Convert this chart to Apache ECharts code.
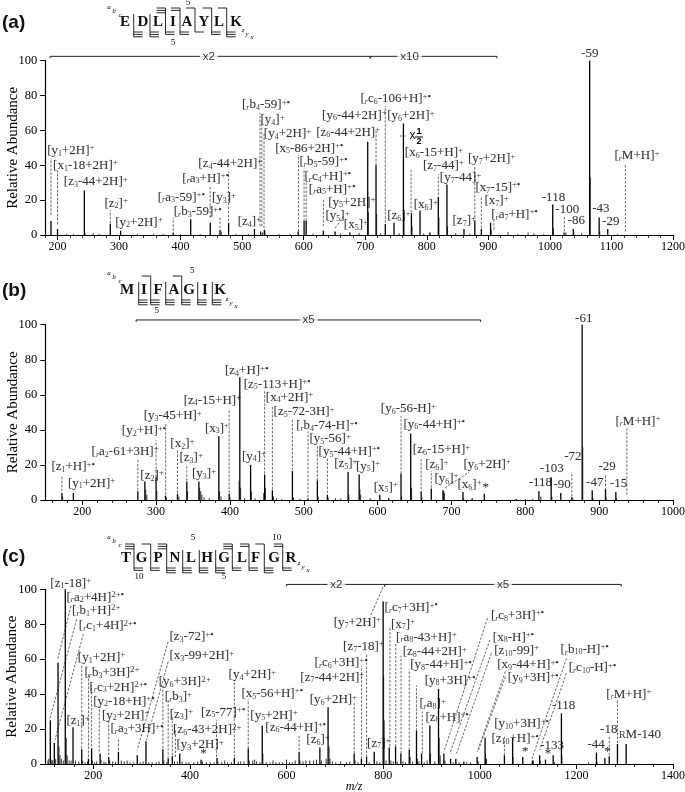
<!DOCTYPE html>
<html><head><meta charset="utf-8">
<style>html,body{margin:0;padding:0;background:#fff}#c{width:685px;height:792px}</style>
<script src="https://cdn.jsdelivr.net/npm/echarts@6/dist/echarts.min.js"></script>
</head><body><div id="c"></div>
<script>
// ---------- Panel (a) ----------
const aPeaks=[[189.4,8],[200,3.5],[243.6,25.5],[285.8,6.5],[302.6,2.5],[388,1.5],[416.4,9],[448.2,7],[464,3],[478,7],[520,3.5],[530,2],[536,3],[591,2],[600.6,8],[604,8],[632,2.5],[651,2],[675,1.5],[704,53.5],[717.5,40],[732.6,6.3],[746.7,7],[762,64],[775,12.5],[789,14],[805,1.5],[818.7,22],[832.7,29],[860.4,3.5],[878,8.5],[888.6,3.5],[903.6,7],[1004.6,17.5],[1023,1.5],[1038,3.5],[1064.6,100],[1080,10],[1094,3.5]];
const aMinor=[[705,13],[718.5,12],[763,13],[776,5],[819.7,10],[833.7,5],[904.6,3],[1005.6,4],[1065.6,33],[1081,2],[466,2],[537,2.5],[533,1.5],[245,1],[215,.6],[226,.5],[258,1],[268,.7],[330,.6],[356,.8],[372,.6],[400,.6],[432,.5],[490,.6],[510,.6],[560,.5],[578,.6],[615,.7],[660,.8],[690,1.2],[725,1],[755,1],[795,.8],[847,1],[870,.7],[932,1.5],[948,.6],[964.6,1.5],[974,1],[990,.6],[1026,1.5],[1039,1.5],[1051.6,1],[1110,.5]];
const aLabels=[[182.4,48.4,"[y{1}+2H]<+>"],[192,39.8,"[x{1}-18+2H]<+>"],[209.5,30.6,"[z{3}-44+2H]<+>"],[275.5,18.2,"[z{2}]<+>"],[293,7.3,"[y{2}+2H]<+>"],[362,21.6,"[{r}a{3}-59]<+•>"],[388,13.2,"[{r}b{3}-59]<+•>"],[402,32.5,"[{r}a{3}+H]<+•>"],[450,21.2,"[y{3}]<+>"],[428,40.9,"[z{4}-44+2H]<+>"],[492,7.6,"[z{4}]<+>"],[499,74.6,"[{r}b{4}-59]<+•>"],[529,66,"[y{4}]<+>"],[534.4,58,"[y{4}+2H]<+>"],[553,49.7,"[x{5}-86+2H]<+•>"],[592.4,42,"[{r}b{5}-59]<+•>"],[600.5,33.5,"[{r}c{4}+H]<+•>"],[607.5,26.2,"[{r}a{5}+H]<+•>"],[639,18.7,"[y{5}+2H]<+>"],[634.6,11,"[y{5}]<+>"],[664.4,5.7,"[x{5}]<+>"],[619.4,58.9,"[z{6}-44+2H]<+>"],[629,68.8,"[y{6}-44+2H]<+>"],[691.5,78.2,"[{r}c{6}-106+H]<+•>"],[734.8,68.3,"[y{6}+2H]<+>"],[763.5,47.2,"[x{6}-15+H]<+>"],[793,39.8,"[z{7}-44]<+>"],[820.4,32.9,"[y{7}-44]<+>"],[866,43.8,"[y{7}+2H]<+>"],[878.3,27.2,"[x{7}-15]<+•>"],[893,19.5,"[x{7}]<+>"],[903.8,11.7,"[{r}a{7}+H]<+•>"],[778,17.2,"[x{6}]<+>"],[734.8,10.9,"[z{6}]<+>"],[841,8.2,"[z{7}]<+>"],[986,21.6,"-118"],[1008,14.3,"-100"],[1028,8.4,"-86"],[1050,103.8,"-59"],[1068,14.9,"-43"],[1084,7.6,"-29"],[1104,45.5,"[{r}M+H]<+>"]];
const aLinks=[[189.4,11.5,189.4,44],[200,6,200,37],[285.8,6.7,285.8,14.3],[388,2.5,388,10],[448,10,448,27.7],[464,4,464,10.5],[478,8,478,36.3],[529,5,529,70],[532,5,532,65],[535.5,4,535.5,58],[591.5,2,591.5,46],[600.6,8,600.6,38],[604,8,604,30],[632,5,632,20],[717.5,40,717.5,60],[732.6,7,732.6,74],[774.4,13,774.4,38],[818.7,23,818.7,35],[878,10,878,39],[888.6,4,888.6,22],[909,3,909,8.6],[1023.5,2,1023.5,11],[1122.6,2,1122.6,41],[651,4,665,11]];
const aBrackets=[[188,708,102.5],[708,914,102.5]];
const aBracketTexts=[[446,"x2"],[772,"x10"]];
// ---------- Panel (b) ----------
const bPeaks=[[172.5,4],[188,4],[275.3,5],[284.8,10.5],[300,13],[312.8,2.5],[329,3.5],[341.6,10.5],[358,10.5],[385,36.5],[399,3.5],[413.4,70],[428,20],[447,14.5],[457.5,5.5],[484.6,16.5],[505.8,1],[518.4,11],[532,3],[560,16],[575,14.5],[603,3],[615,1],[631.7,15],[644.8,38],[659,5],[672.7,6.5],[688.5,5.5],[715.6,4.5],[728,1],[744.5,3.5],[787.8,.6],[818.4,5],[835,13],[848,4],[863,1.5],[877,100],[890.6,5.5],[908.6,6.5],[922.6,4.5]];
const bMinor=[[173.5,2],[286,6],[287.5,3],[301,5],[314,1.5],[331,2],[342.6,5],[359,7],[360.5,5],[362,3],[365,1.5],[372,1],[386,5],[388,2],[400,1.5],[412.5,11],[414.5,7],[420,1],[429,5],[434,1],[445.8,4],[448,7],[459,2],[463,1],[486,1.5],[519.5,2],[533,1.5],[543,1],[561,3],[576,6],[577,3],[590,1],[632.5,2],[646,7],[660,1.5],[689.5,5],[690.5,4],[716.5,1],[821,2],[836,2],[864.5,1],[877.8,30],[891.5,1],[909.5,1.5],[923.5,1],[470,.6],[495,.7],[550,.8],[800,.5],[810,.7]];
const bLabels=[[157.6,18.8,"[z{1}+H]<+•>"],[180,9.5,"[y{1}+2H]<+>"],[212,27.6,"[{r}a{2}-61+3H]<+>"],[278,13.9,"[z{2}]<+>"],[253,39.5,"[y{2}+H]<+•>"],[282.5,47.9,"[y{3}-45+H]<+>"],[318.6,32,"[x{2}]<+>"],[331,24,"[z{3}]<+>"],[348,14.8,"[y{3}]<+>"],[365.5,40.9,"[x{3}]<+>"],[336.7,57,"[z{4}-15+H]<+>"],[415.6,24.9,"[y{4}]<+>"],[392.6,73.6,"[z{4}+H]<+•>"],[418,66,"[z{5}-113+H]<+•>"],[448,58.7,"[x{4}+2H]<+>"],[458.5,50.4,"[z{5}-72-3H]<+>"],[489,42.4,"[{r}b{4}-74-H]<+•>"],[507,34.8,"[y{5}-56]<+>"],[519.4,27.6,"[y{5}-44+H]<+•>"],[540.5,20.5,"[z{5}]<+>"],[570,19.2,"[y{5}]<+>"],[594,7.2,"[x{5}]<+>"],[603.7,51.9,"[y{6}-56-H]<+>"],[634.4,43.3,"[y{6}-44+H]<+•>"],[647,28.5,"[z{6}-15+H]<+>"],[663.7,20,"[z{6}]<+>"],[676.3,12.2,"[y{6}]<+>"],[707.5,8.6,"[x{6}]<+>"],[715.6,20.3,"[y{6}+2H]<+>"],[741.5,7,"*"],[804,9.7,"-118"],[819,17.7,"-103"],[837.4,8.7,"-90"],[852,24.5,"-72"],[866.7,103.6,"-61"],[881.6,10,"-47"],[898.3,19,"-29"],[914,9.5,"-15"],[921.3,45,"[{r}M+H]<+>"]];
const bLinks=[[172.5,5,172.5,14],[275.3,5.5,275.3,23],[300,13,300,34],[313,3,313,43.7],[329,4,329,28.5],[341.6,11,341.6,20],[399,4,399,52],[447,15,447,62],[457.5,6,457.5,54],[484.6,17,484.6,46.6],[505.8,1.5,505.8,39],[518.4,11,518.4,31],[532,4,532,24],[631.7,15,631.7,48],[659,6,659,24],[672.7,7,672.7,16.5],[863,2,863,16],[908.6,8,908.6,14.6],[937.5,3,937.5,41],[690.8,7,723.7,15.8]];
const bBrackets=[[273,739.5,102.7]];
const bBracketTexts=[[506.6,"x5"]];
// ---------- Panel (c) ----------
const cPeaks=[[111,25],[119.3,12],[127,58],[142,100],[158,21],[176,8.5],[190,3],[196.5,9],[214,6],[232,4],[252,7],[291,5],[309,13],[344,8.5],[355,3],[363.5,4.5],[379,6],[423,2.5],[456,3.5],[492,3.5],[520.7,9],[549.7,22],[626,7],[669,9.5],[686,32.5],[740,6],[755,3],[765.7,4],[781.5,7],[800,93],[812.6,9.5],[825.7,10],[836.7,6],[854,8],[869,19],[879.5,6],[896.7,22],[914.6,43],[925.7,6],[939.5,3],[950.5,3],[967,1.5],[994.6,4],[1011,15],[1051,5],[1068,15],[1089,4],[1109,2],[1124,5],[1136,2.5],[1152,5],[1169,29],[1241.5,6.5],[1259,3.5],[1268,4.5],[1285,11.5],[1303,11.5]];
const cMinor=[[106,2],[108,3],[114,2.5],[116,2],[122,3],[129,10],[131,5],[134,3],[138,2],[144,15],[146,5],[150,2],[154,2],[163,2],[170,1.5],[178,2],[183,1],[188,1.5],[198,2],[203,1],[207,1.5],[216,2.5],[222,1.5],[226,1],[234,2],[240,1.5],[246,1],[258,2],[264,1.5],[270,2],[276,1],[284,1],[297,1],[303,1.5],[315,1],[322,1],[330,1],[336,1.5],[346,2],[352,1],[368,1.5],[374,1.5],[384,1.5],[392,1],[398,1],[408,1],[416,1.5],[426,1.5],[434,1],[442,1],[450,1],[458,1.5],[466,1],[472,2],[478,1],[486,1],[500,1.5],[505,1.5],[512,1.5],[523,2],[530,2],[534,2.5],[538,1.5],[545,1],[551,6],[558,1],[566,1],[572,2],[578,1],[585,1],[592,1],[600,2.5],[606,1],[612,1],[618,2],[628,2],[634,1.5],[640,2],[648,2],[656,2],[662,2.5],[672,2],[682,3],[688,10],[690,3],[695,1.5],[702,1],[712,1.5],[724,1],[731,1.5],[742,2],[748,1],[771,1],[787,1.5],[793,1],[801,50],[802,25],[806,2],[816,2],[821,1.5],[829,1.5],[841,1.5],[846,1],[856,4],[861,1.5],[871,3],[874,1.5],[885,1],[891,2],[898,6],[907,1.5],[916,15],[918,5],[928,2],[945,1],[957,1],[973,1],[981,1],[997,1.5],[1012,6],[1014,3],[1069,4],[1111,2],[1125,2],[1155,1],[1170,5],[1225,1],[1243,1]];
const cLabels=[[110,103.4,"[z{1}-18]<+>"],[143.4,95.4,"[{r}a{2}+4H]<2+•>"],[155,87.8,"[{r}b{1}+H]<2+>"],[169,79,"[{r}c{1}+4H]<2+•>"],[167,61,"[y{1}+2H]<+>"],[180.7,52.3,"[{r}b{3}+3H]<2+>"],[191,43.9,"[{r}c{3}+2H]<2+•>"],[198.6,35.9,"[y{2}-18+H]<+•>"],[217,28,"[y{2}+2H]<+>"],[234.5,20.2,"[{r}a{2}+3H]<+•>"],[143.4,24.6,"[z{1}]<+>"],[356.6,72.7,"[z{3}-72]<+•>"],[356.6,61.8,"[x{3}-99+2H]<+>"],[334.5,47,"[y{6}+3H]<2+>"],[347,38.5,"[{r}b{3}]<+>"],[357,28.4,"[z{3}]<+>"],[364,19.5,"[z{6}-43+2H]<2+>"],[371,10.9,"[y{3}+2H]<+>"],[420.5,6,"*"],[422,29.6,"[z{5}-77]<+•>"],[479,51,"[y{4}+2H]<+>"],[505.5,40.3,"[x{5}-56+H]<+•>"],[524,28,"[y{5}+2H]<+>"],[555,21,"[z{6}-44+H]<+•>"],[640,13.7,"[z{6}]<+>"],[647,36.6,"[y{6}+2H]<+>"],[627.6,49.6,"[z{7}-44+2H]<+>"],[657,58,"[{r}c{6}+3H]<+•>"],[716,67.2,"[z{7}-18]<+>"],[696.6,81,"[y{7}+2H]<+>"],[802,89.5,"[{r}c{7}+3H]<+•>"],[815,80,"[x{7}]<+>"],[825.7,72.5,"[{r}a{8}-43+H]<+>"],[839.5,64.3,"[z{8}-44+2H]<+>"],[855,56.7,"[y{8}-44+H]<+•>"],[885,48,"[y{8}+3H]<+•>"],[874,34.4,"[{r}a{8}]<+>"],[886.4,26.7,"[z{8}+H]<+•>"],[765.7,11.8,"[z{7}]<+>"],[1022,85,"[{r}c{8}+3H]<+•>"],[1026,72.5,"[x{8}-H]<+•>"],[1029,64.9,"[z{10}-99]<+>"],[1035,56.7,"[x{9}-44+H]<+•>"],[1057,49.2,"[y{9}+3H]<+•>"],[1029,22.9,"[y{10}+3H]<+•>"],[1023,14.3,"[z{10}+H]<+•>"],[1086.5,7,"*"],[1124,10.5,"-133"],[1133.5,5.7,"*"],[1148.5,33.4,"-118"],[1166,65.6,"[{r}b{10}-H]<+•>"],[1183,55,"[{r}c{10}-H]<+•>"],[1261,40,"[{r}M+H]<+>"],[1222,10.9,"-44"],[1248,19.8,"-18"],[1256.5,7,"*"],[1287,16.6,"{R}M-140"]];
const cLinks=[[153.8,90.5,126,59.5],[165.5,82.8,110.3,26.1],[179.3,74.4,120.7,13.7],[176,9,176,57],[190,4,190,52],[196.5,10,196.5,45],[212.4,7,212.4,33],[232,5,232,25],[252,8,252,15],[355,70,291,8],[355,58.6,310,13.7],[344,9,344,45],[355,3,355,37],[363.5,5,363.5,27],[370,4,370,20],[455,4,455,25],[492,4,492,48],[520.7,9,520.7,37],[626,8,626,16],[740,6,740,35],[755.3,3,755.3,56],[765.7,4,765.7,63],[774.6,85.3,800,101.5],[814,10,814,79],[826,10,826,69],[837,6,837,62],[854,8,854,54],[869,19,869,45],[881,6,881,30],[1016,83.4,925.7,7],[1021,71,938,6],[1024,63.4,952,6],[1053,52.9,994.6,7],[1053,50,997.4,8],[1179.5,60.5,1107,2.3],[1179.5,52,1124,8],[1051,5,1051,16],[1285,12,1285,36.6],[1268,5,1268,15.6]];
const cBrackets=[[600,803,102.8],[803,1293,102.8]];
const cBracketTexts=[[703,"x2"],[1048,"x5"]];
// ---------- Sequences ----------
const aSeq=["E","D","L","I","A","Y","L","K"];
const aCuts=[[0,3],[0,3],[3,2],[2,2],[1,1],[1,2],[1,3]];
const bSeq=["M","I","F","A","G","I","K"];
const bCuts=[[0,3],[1,3],[0,3],[1,3],[0,3],[0,3]];
const cSeq=["T","G","P","N","L","H","G","L","F","G","R"];
const cCuts=[[3,2],[1,2],[3,3],[0,3],[0,3],[0,3],[3,2],[2,2],[1,3],[2,2]];
const yTicks=[0,20,40,60,80,100];

const SERIF='"Liberation Serif","Times New Roman",serif', SANS='"Liberation Sans",Arial,sans-serif';
const INK='#000';
const rich={
 n:{fontFamily:SERIF,fontSize:13,color:INK,lineHeight:14,textBorderColor:'rgba(0,0,0,0.25)',textBorderWidth:0.3},
 s:{fontFamily:SERIF,fontSize:8,color:INK,verticalAlign:'bottom'},
 r:{fontFamily:SERIF,fontSize:8,color:INK,fontStyle:'italic',verticalAlign:'bottom'},
 u:{fontFamily:SERIF,fontSize:9,color:INK,verticalAlign:'top'},
 b:{fontFamily:SERIF,fontSize:9,color:INK,verticalAlign:'top',fontWeight:'bold'},
 l:{fontFamily:SERIF,fontSize:10,color:INK}
};
function markup(t){
 let out='',re=/\{([^}]*)\}|<([^>]*)>|([^{<]+)/g,m;
 while((m=re.exec(t))){
  if(m[1]!==undefined){out+=(m[1]==='r'?'{r|r}':m[1]==='R'?'{l|R}':'{s|'+m[1]+'}');}
  else if(m[2]!==undefined){
    const raw=m[2],dot=raw.endsWith('•');
    const head=dot?raw.slice(0,-1):raw;
    out+='{u|'+head+'}'+(dot?'{b|•}':'');
  } else out+='{n|'+m[3]+'}';
 }
 return out;
}
function stems(data,g,width){
 return {type:'custom',xAxisIndex:g,yAxisIndex:g,data,clip:false,silent:true,z:3,
  encode:{x:0,y:1},
  renderItem(p,api){
   const a=api.coord([api.value(0),0]),b=api.coord([api.value(0),api.value(1)]);
   return {type:'line',shape:{x1:a[0],y1:a[1],x2:b[0],y2:b[1]},style:{stroke:'#000',lineWidth:width}};
  }};
}
function links(data,g){
 return {type:'custom',xAxisIndex:g,yAxisIndex:g,data,clip:false,silent:true,z:2,
  encode:{x:[0,2],y:[1,3]},
  renderItem(p,api){
   const a=api.coord([api.value(0),api.value(1)]),b=api.coord([api.value(2),api.value(3)]);
   return {type:'line',shape:{x1:a[0],y1:a[1],x2:b[0],y2:b[1]},style:{stroke:'#444',lineWidth:.8,lineDash:[2.5,1.5]}};
  }};
}
function brackets(data,g){
 return {type:'custom',xAxisIndex:g,yAxisIndex:g,data,clip:false,silent:true,z:2,
  encode:{x:[0,1],y:2},
  renderItem(p,api){
   const a=api.coord([api.value(0),api.value(2)]),b=api.coord([api.value(1),api.value(2)]);
   const st={stroke:'#222',lineWidth:1};
   return {type:'group',children:[
    {type:'line',shape:{x1:a[0],y1:a[1],x2:b[0],y2:b[1]},style:st},
    {type:'line',shape:{x1:a[0],y1:a[1],x2:a[0],y2:a[1]+2},style:st},
    {type:'line',shape:{x1:b[0],y1:b[1],x2:b[0],y2:b[1]+2},style:st}]};
  }};
}
function labels(data,g){
 return {type:'scatter',xAxisIndex:g,yAxisIndex:g,symbolSize:1,clip:false,silent:true,z:5,
  itemStyle:{color:'rgba(0,0,0,0)'},
  data:data.map(d=>({value:[d[0],d[1]],label:{show:true,position:'right',distance:0,rich,formatter:markup(d[2])}}))};
}
function bracketTexts(data,y,g){
 return {type:'scatter',xAxisIndex:g,yAxisIndex:g,symbolSize:1,clip:false,silent:true,z:6,
  itemStyle:{color:'rgba(0,0,0,0)'},
  data:data.map(d=>({value:[d[0],y],label:{show:true,position:'inside',formatter:d[1],fontFamily:SANS,fontSize:11.5,color:INK,backgroundColor:'#fff',padding:[1,3]}}))};
}
function range(a,b,s){const r=[];for(let v=a;v<=b;v+=s)r.push(v);return r;}

const panels=[
 {top:60.7,h:174.3,left:45.2,min:180,max:1200,maj:range(200,1200,100),mnr:range(180,1200,20)},
 {top:324.7,h:175.3,left:45.3,min:150,max:1000,maj:range(200,1000,100),mnr:range(160,1000,20)},
 {top:589.3,h:174.7,left:45,min:100,max:1400,maj:range(200,1400,200),mnr:range(120,1400,40)}
];
const grid=[],xAxis=[],yAxis=[];
panels.forEach((p,i)=>{
 grid.push({left:p.left,right:12,top:p.top,height:p.h,outerBoundsMode:'none'});
 xAxis.push({type:'value',gridIndex:i,min:p.min,max:p.max,splitLine:{show:false},
  axisLine:{onZero:false,lineStyle:{color:'#000',width:1.2}},
  axisTick:{show:true,length:3,customValues:p.mnr,lineStyle:{color:'#000',width:.8}},
  axisLabel:{customValues:p.maj,margin:6,fontFamily:SERIF,fontSize:12,color:INK,hideOverlap:false,formatter:v=>String(v)},
  ...(i===2?{name:'m/z',nameLocation:'middle',nameGap:17,nameMoveOverlap:false,nameTextStyle:{fontFamily:SERIF,fontStyle:'italic',fontSize:12,color:INK,padding:[0,10,0,0]}}:{})
 });
 yAxis.push({type:'value',gridIndex:i,min:0,max:100,interval:20,splitLine:{show:false},
  axisLine:{show:true,onZero:false,lineStyle:{color:'#000',width:1.2}},
  axisTick:{show:true,length:5,lineStyle:{color:'#000',width:1}},
  axisLabel:{margin:8,fontFamily:SERIF,fontSize:12.5,color:INK,customValues:yTicks},
  name:'Relative Abundance',nameLocation:'middle',nameGap:25,nameRotate:90,nameMoveOverlap:false,
  nameTextStyle:{fontFamily:SERIF,fontSize:15,color:INK}});
});
// second set of x axes for the longer major ticks
panels.forEach((p,i)=>{
 xAxis.push({type:'value',gridIndex:i,position:'bottom',min:p.min,max:p.max,splitLine:{show:false},
  axisLine:{show:false,onZero:false},axisLabel:{show:false},
  axisTick:{show:true,length:5,customValues:p.maj,lineStyle:{color:'#000',width:1}}});
});

// sequence diagrams (annotation graphics)
const graphic=[];
function seq(letters,cuts,xs,gaps,yc){
 letters.forEach((c,i)=>graphic.push({type:'text',x:xs[i],y:yc,style:{text:c,fontFamily:SERIF,fontWeight:'bold',fontSize:15,fill:'#111',textAlign:'center',textVerticalAlign:'middle'}}));
 cuts.forEach((cut,i)=>{
  const g=gaps[i],[t,b]=cut;
  const yT=t?yc-14:yc-8, yB=yc+10+2.4*(b-1);
  graphic.push({type:'line',shape:{x1:g,y1:yT,x2:g,y2:yB},style:{stroke:'#111',lineWidth:.9}});
  for(let k=0;k<t;k++)graphic.push({type:'line',shape:{x1:g-9,y1:yT+k*2.4,x2:g,y2:yT+k*2.4},style:{stroke:'#111',lineWidth:.9}});
  for(let k=0;k<b;k++)graphic.push({type:'line',shape:{x1:g,y1:yc+10+k*2.4,x2:g+9,y2:yc+10+k*2.4},style:{stroke:'#111',lineWidth:.9}});
 });
}
seq(aSeq,aCuts,[125,143,158,173,187,204,219,236],[133.7,150,165.5,180,195,211.7,226.7],22);
seq(bSeq,bCuts,[127,144,158,174,189,205,220],[138.7,150.7,165.7,181.7,197.7,212.3],290);
seq(cSeq,cCuts,[126,141.7,158,175,191,207,224,242,255.7,274,291],[134,150.7,166.7,182.7,199.3,215.7,232.3,249,264.3,282.7],558);
function small(t,x,y,fs,it){graphic.push({type:'text',x,y,style:{text:t,fontFamily:SERIF,fontSize:fs||8,fontStyle:it?'italic':'normal',fill:INK,textAlign:'center',textVerticalAlign:'middle'}});}
[[109,7],[114,11],[120,15],[109,273],[114,277],[120,281],[109,537],[114,541],[120,545]].forEach((q,i)=>small("abc"[i%3],q[0],q[1],7,true));
[[243,30],[247,34],[252,37],[227,299],[231,303],[236,306],[299,563],[303,567],[308,570]].forEach((q,i)=>small("zyx"[i%3],q[0],q[1],7,true));
small("5",188,3,9);small("5",173,43,9);small("5",192.3,271,9);small("5",156.7,311,9);
small("5",193,538,9);small("10",276.7,538,9);small("10",139,577,9);small("5",224,577,9);
[["(a)",23],["(b)",291],["(c)",557]].forEach(q=>graphic.push({type:'text',x:2,y:q[1],style:{text:q[0],fontFamily:SANS,fontWeight:'bold',fontSize:19,fill:'#111',textVerticalAlign:'middle'}}));
// x 1/2 scaling mark on panel (a)
graphic.push({type:'text',x:409.5,y:136,style:{text:'x',fontFamily:SANS,fontSize:12,fill:INK,textVerticalAlign:'middle'}});
graphic.push({type:'text',x:419,y:132,style:{text:'1',fontFamily:SANS,fontSize:9,fontWeight:'bold',fill:INK,textAlign:'center',textVerticalAlign:'middle'}});
graphic.push({type:'text',x:419,y:142,style:{text:'2',fontFamily:SANS,fontSize:9,fontWeight:'bold',fill:INK,textAlign:'center',textVerticalAlign:'middle'}});
graphic.push({type:'line',shape:{x1:415,y1:137,x2:423,y2:137},style:{stroke:INK,lineWidth:1}});
graphic.push({type:'line',shape:{x1:400,y1:136,x2:406,y2:136},style:{stroke:'#777',lineWidth:1}});

const series=[
 stems(aMinor,0,.8),stems(aPeaks,0,1.3),links(aLinks,0),brackets(aBrackets,0),labels(aLabels,0),bracketTexts(aBracketTexts,102.5,0),
 stems(bMinor,1,.8),stems(bPeaks,1,1.3),links(bLinks,1),brackets(bBrackets,1),labels(bLabels,1),bracketTexts(bBracketTexts,102.7,1),
 stems(cMinor,2,.8),stems(cPeaks,2,1.3),links(cLinks,2),brackets(cBrackets,2),labels(cLabels,2),bracketTexts(cBracketTexts,102.8,2)
];
const chart=echarts.init(document.getElementById('c'),null,{renderer:'canvas'});
chart.setOption({animation:false,backgroundColor:'#fff',grid,xAxis,yAxis,series,graphic:{elements:graphic}});
</script></body></html>
